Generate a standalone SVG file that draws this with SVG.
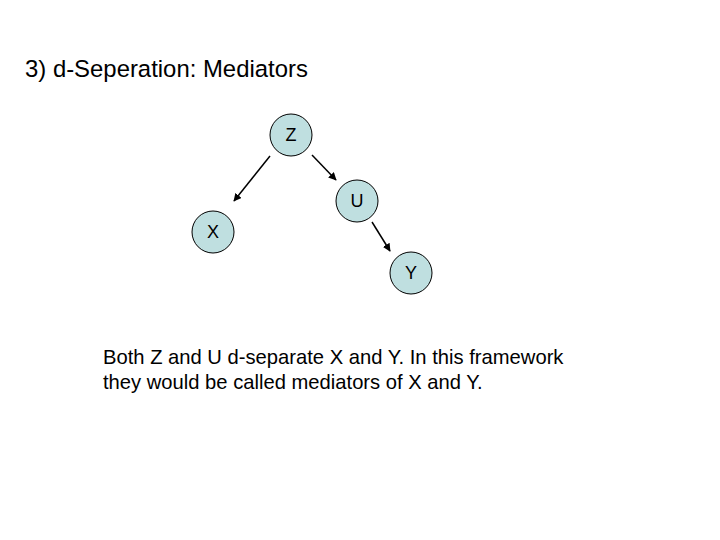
<svg xmlns="http://www.w3.org/2000/svg" width="720" height="540" viewBox="0 0 720 540">
<style>
.n{fill:#bfdfe0;stroke:#000;stroke-width:1}
.t{font-family:"Liberation Sans",Arial,sans-serif;font-size:18px;fill:#000}
.e{stroke:#000;stroke-width:1.5;fill:none;marker-end:url(#a)}
</style>
<defs><marker id="a" viewBox="0 0 10 10" refX="9" refY="5" markerWidth="8" markerHeight="8" orient="auto" markerUnits="userSpaceOnUse"><path d="M0,0L10,5L0,10z" fill="#000"/></marker></defs>
<rect width="720" height="540" fill="#fff"/>
<text x="25" y="77" class="t" style="font-size:23.9px">3) d-Seperation: Mediators</text>
<g id="edges">
<line class="e" x1="270" y1="156" x2="234" y2="201"/>
<line class="e" x1="312" y1="155" x2="336" y2="180"/>
<line class="e" x1="372" y1="222" x2="390" y2="251"/>
</g>
<g id="Z"><circle class="n" cx="291" cy="135" r="21"/><text class="t" x="291" y="141" text-anchor="middle">Z</text></g>
<g id="U"><circle class="n" cx="357" cy="201" r="21"/><text class="t" x="357" y="207" text-anchor="middle">U</text></g>
<g id="X"><circle class="n" cx="213" cy="232" r="21"/><text class="t" x="213" y="238" text-anchor="middle">X</text></g>
<g id="Y"><circle class="n" cx="411" cy="273" r="21"/><text class="t" x="411" y="279" text-anchor="middle">Y</text></g>
<text class="t" x="103" y="364" style="font-size:20.2px">Both Z and U d-separate X and Y.  In this framework</text>
<text class="t" x="103" y="389" style="font-size:20.2px">they would be called mediators of X and Y.</text>
</svg>
